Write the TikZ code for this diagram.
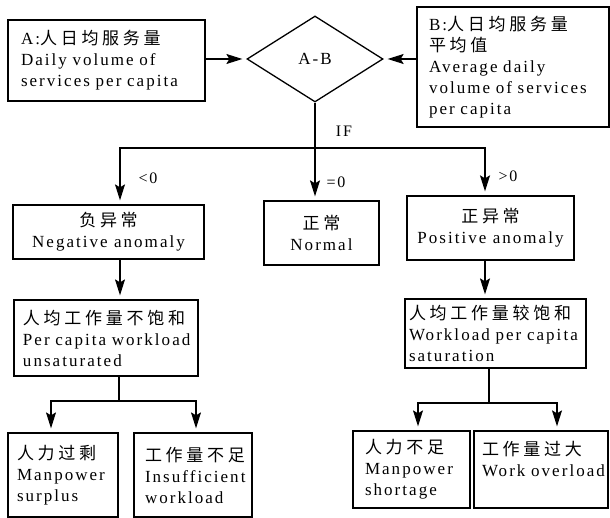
\documentclass[tikz,border=0pt]{standalone}
\usepackage{fontspec}
\setmainfont{Liberation Serif}[LetterSpace=12]
\newfontfamily\zhfont{Noto Sans CJK SC}[LetterSpace=22]
\usetikzlibrary{arrows.meta,shapes.geometric}
\newcommand\zh[1]{{\zhfont #1}}

\tikzset{
  box/.style={draw, line width=1.3pt, inner ysep=0pt,
    font=\fontsize{17}{21}\selectfont},
  lbox/.style={box, align=left},
  cbox/.style={box, align=center, inner xsep=0pt},
  decision/.style={draw, diamond, line width=1.3pt, inner sep=0pt,
    font=\fontsize{17}{21}\selectfont},
  link/.style={line width=1.1pt},
  arrowlink/.style={link, shorten >=4pt,
    -{Stealth[length=16pt,width=10pt,inset=3pt]}},
  lbl/.style={inner sep=1pt, font=\fontsize{16}{19}\selectfont}
}

\begin{document}
\begin{tikzpicture}[x=1pt,y=-1pt]
\fill[white] (0,0) rectangle (610,518);
\useasboundingbox (0,0) rectangle (610,518);

% inputs and the comparison
\node[lbox, minimum height=81, text width=171, inner xsep=13] (A) at (106.5,60.5)
  {\mbox{A:\zh{人日均服务量}}\\ \mbox{Daily volume of}\\ \mbox{services per capita}};
\node[decision, minimum width=136, minimum height=86] (D) at (315,59) {A-B};
\node[lbox, minimum height=120, text width=168, inner xsep=12] (B) at (513,67)
  {\mbox{B:\zh{人日均服务量}}\\ \mbox{\zh{平均值}}\\ \mbox{Average daily}\\
   \mbox{volume of services}\\ \mbox{per capita}};

% three outcomes
\node[cbox, minimum width=191, minimum height=54] (Neg) at (108.5,232)
  {\zh{负异常}\\ Negative anomaly};
\node[cbox, minimum width=115, minimum height=64] (Nor) at (321.5,233)
  {\zh{正常}\\ Normal};
\node[cbox, minimum width=167, minimum height=64] (Pos) at (490.5,228)
  {\zh{正异常}\\ Positive anomaly};

% workload level
\node[lbox, minimum height=76, text width=166, inner xsep=9] (LS) at (106,338)
  {\mbox{\zh{人均工作量不饱和}}\\ \mbox{Per capita workload}\\ \mbox{unsaturated}};
\node[lbox, minimum height=69, text width=173, inner xsep=4] (RS) at (495.5,333.5)
  {\mbox{\zh{人均工作量较饱和}}\\ \mbox{Workload per capita}\\ \mbox{saturation}};

% consequences
\node[lbox, minimum height=84, text width=92, inner xsep=9] (Sur) at (63,475)
  {\mbox{\zh{人力过剩}}\\ \mbox{Manpower}\\ \mbox{surplus}};
\node[lbox, minimum height=84, text width=96, inner xsep=11] (Ins) at (193,475)
  {\mbox{\zh{工作量不足}}\\ \mbox{Insufficient}\\ \mbox{workload}};
\node[lbox, minimum height=77, text width=93, inner xsep=12] (Sho) at (411.5,469.5)
  {\mbox{\zh{人力不足}}\\ \mbox{Manpower}\\ \mbox{shortage}};
\node[lbox, minimum height=77, text width=118, inner xsep=8] (Ovl) at (541,469.5)
  {\mbox{\zh{工作量过大}}\\ \mbox{Work overload}\\ \mbox{}};

% branch points
\coordinate (sp) at (315,148);
\coordinate (bl) at (120,148);
\coordinate (br) at (485,148);
\coordinate (ls) at (119,401);
\coordinate (s1) at (51,401);
\coordinate (s2) at (196,401);
\coordinate (rs) at (489,403);
\coordinate (t1) at (418,403);
\coordinate (t2) at (557,403);

% connectors
\draw[arrowlink] (A.east |- D.west) -- (D.west);
\draw[arrowlink] (B.west |- D.east) -- (D.east);
\draw[arrowlink] (D.south) -- (Nor.north -| D.south);
\draw[arrowlink] (sp) -- (bl) -- (Neg.north -| bl);
\draw[arrowlink] (sp) -- (br) -- (Pos.north -| br);
\draw[arrowlink] (Neg.south -| bl) -- (LS.north -| bl);
\draw[arrowlink] (Pos.south -| br) -- (RS.north -| br);
\draw[link] (LS.south -| ls) -- (ls);
\draw[arrowlink] (ls) -- (s1) -- (Sur.north -| s1);
\draw[arrowlink] (ls) -- (s2) -- (Ins.north -| s2);
\draw[link] (RS.south -| rs) -- (rs);
\draw[arrowlink] (rs) -- (t1) -- (Sho.north -| t1);
\draw[arrowlink] (rs) -- (t2) -- (Ovl.north -| t2);

% condition labels
\node[lbl] (if) at (344,131) {IF};
\node[lbl] (lt) at (148,178) {<0};
\node[lbl] (eq) at (336,182) {=0};
\node[lbl] (gt) at (508,176) {>0};
\end{tikzpicture}
\end{document}
